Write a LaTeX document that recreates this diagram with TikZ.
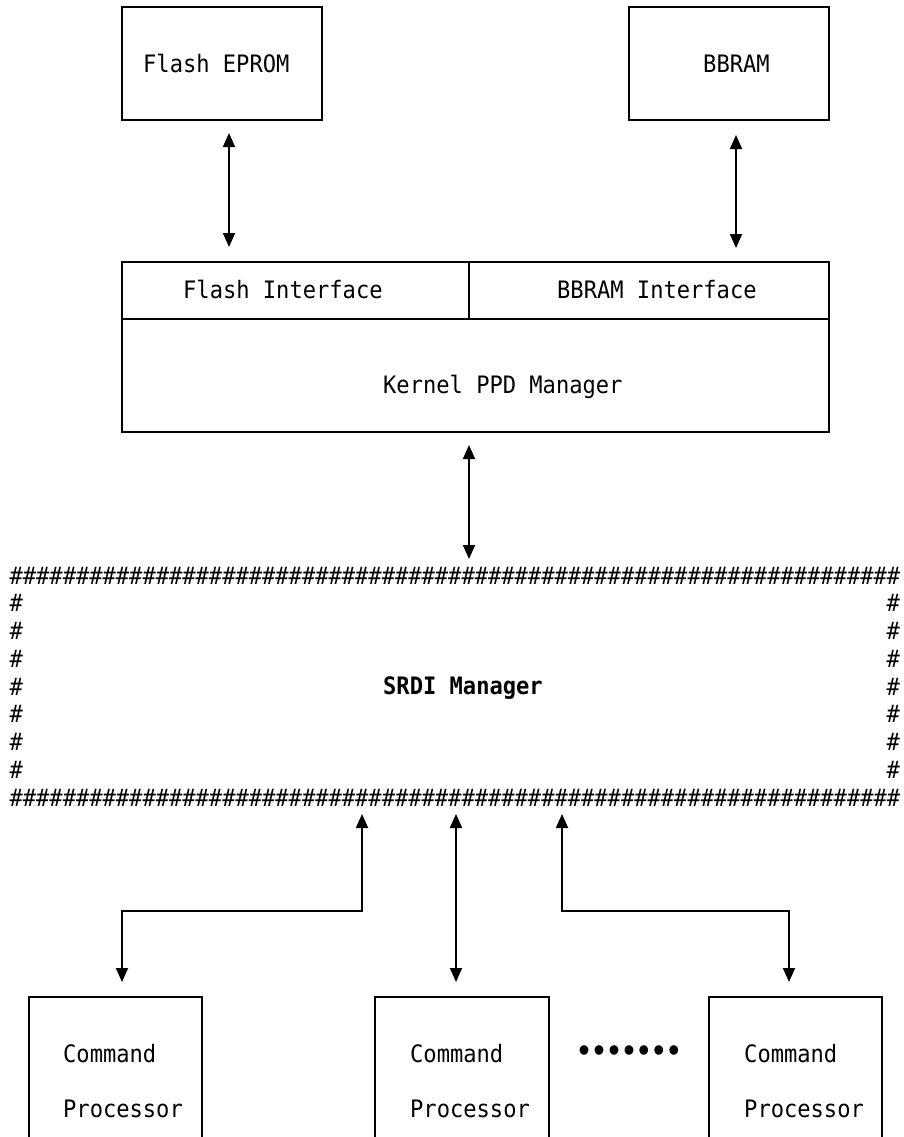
\documentclass[tikz,border=0pt]{standalone}
\usepackage{fontspec}
\newfontfamily\dmono[FakeStretch=0.92]{DejaVu Sans Mono}
\usetikzlibrary{arrows.meta}
\newcommand\myhashten{\#\#\#\#\#\#\#\#\#\#}
\newcommand\myhashrow{\myhashten\myhashten\myhashten\myhashten\myhashten\myhashten\#\#\#\#\#\#\#}
\begin{document}
\begin{tikzpicture}[x=1pt,y=-1pt,
  box/.style={draw, line width=1.7pt, inner sep=0pt},
  lbl/.style={inner sep=0pt, anchor=base west, font=\dmono\fontsize{24}{28}\selectfont},
  hsh/.style={inner sep=0pt, font=\dmono\fontsize{24}{28}\selectfont},
  arr/.style={line width=1.8pt, {Triangle[width=12pt,length=14pt]}-{Triangle[width=12pt,length=14pt]}}
]
\useasboundingbox (0,0) rectangle (903,1137);
\fill[white] (0,0) rectangle (903,1137);

% top boxes
\node[box, minimum width=200pt, minimum height=113pt] (fe) at (222,63.5) {};
\node[lbl] (fet) at (143,73) {Flash EPROM};
\node[box, minimum width=200pt, minimum height=113pt] (bb) at (729,63.5) {};
\node[lbl] (bbt) at (703,73) {BBRAM};

% kernel block
\node[box, minimum width=707pt, minimum height=170pt] (kb) at (475.5,347) {};
\coordinate (divl) at (122,319);
\coordinate (divr) at (829,319);
\coordinate (vt) at (469,262);
\coordinate (vb) at (469,319);
\draw[line width=1.7pt] (divl) -- (divr);
\draw[line width=1.7pt] (vt) -- (vb);
\node[lbl] (fit) at (183,298) {Flash Interface};
\node[lbl] (bit) at (557,298) {BBRAM Interface};
\node[lbl] (kpt) at (383,393) {Kernel PPD Manager};

% SRDI hash box
\node[inner sep=0pt, minimum width=890pt, minimum height=240pt] (srdi) at (454.7,688) {};
\node[hsh, anchor=base west] (htop) at (9.4,584) {\myhashrow};
\node[hsh, anchor=base west] (hbot) at (9.4,806) {\myhashrow};
\foreach \k in {1,...,7} {
  \node[hsh, anchor=base west] (hl\k) at (9.4,584+27.75*\k) {\#};
  \node[hsh, anchor=base east] (hr\k) at (900,584+27.75*\k) {\#};
}
\node[lbl, font=\dmono\bfseries\fontsize{24}{28}\selectfont] (srt) at (383,694) {SRDI Manager};

% bottom boxes (open at the bottom)
\node[inner sep=0pt, minimum width=173pt, minimum height=143pt] (cp1) at (115.5,1068.5) {};
\node[inner sep=0pt, minimum width=174pt, minimum height=143pt] (cp2) at (462,1068.5) {};
\node[inner sep=0pt, minimum width=173pt, minimum height=143pt] (cp3) at (795.5,1068.5) {};
\foreach \b in {cp1,cp2,cp3} {
  \draw[line width=1.7pt] (\b.south west) -- (\b.north west) -- (\b.north east) -- (\b.south east);
}
\node[lbl] (c1a) at (63,1062) {Command};
\node[lbl] (c1b) at (63,1117) {Processor};
\node[lbl] (c2a) at (410,1062) {Command};
\node[lbl] (c2b) at (410,1117) {Processor};
\node[lbl] (c3a) at (744,1062) {Command};
\node[lbl] (c3b) at (744,1117) {Processor};
\node[hsh, anchor=center, font=\dmono\bfseries\fontsize{27}{28}\selectfont] (dots) at (629,1053) {•••••••};

% arrows
\coordinate (fa1) at (229,133);
\coordinate (fa2) at (229,247);
\coordinate (ba1) at (736,135);
\coordinate (ba2) at (736,248);
\coordinate (ka1) at (469,445);
\coordinate (ka2) at (469,559);
\draw[arr] (fa1) -- (fa2);
\draw[arr] (ba1) -- (ba2);
\draw[arr] (ka1) -- (ka2);

\coordinate (l1) at (362,814);
\coordinate (l2) at (362,911);
\coordinate (l3) at (122,911);
\coordinate (l4) at (122,982);
\coordinate (m1) at (456,814);
\coordinate (m2) at (456,982);
\coordinate (r1) at (562,814);
\coordinate (r2) at (562,911);
\coordinate (r3) at (789,911);
\coordinate (r4) at (789,982);
\draw[arr] (l1) -- (l2) -- (l3) -- (l4);
\draw[arr] (m1) -- (m2);
\draw[arr] (r1) -- (r2) -- (r3) -- (r4);
\end{tikzpicture}
\end{document}
